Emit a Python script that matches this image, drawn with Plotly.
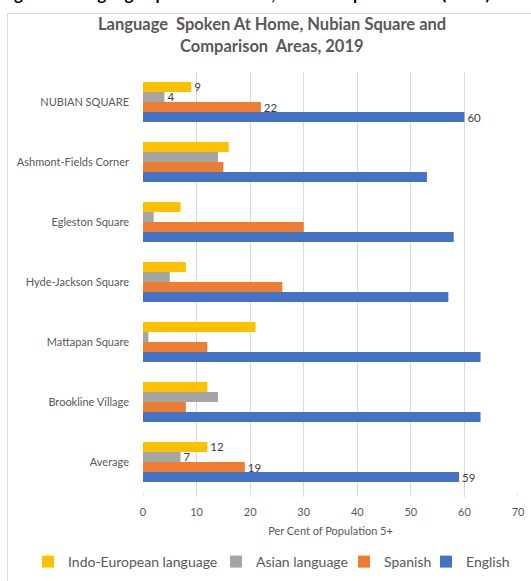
import plotly.graph_objects as go

# Areas, top to bottom
areas = [
    "NUBIAN SQUARE",
    "Ashmont-Fields Corner",
    "Egleston Square",
    "Hyde-Jackson Square",
    "Mattapan Square",
    "Brookline Village",
    "Average",
]

# Per cent of population 5+ by language spoken at home
indo_european = [9, 16, 7, 8, 21, 12, 12]
asian = [4, 14, 2, 5, 1, 14, 7]
spanish = [22, 15, 30, 26, 12, 8, 19]
english = [60, 53, 58, 57, 63, 63, 59]

series_names = ["Indo-European language", "Asian language", "Spanish", "English"]
series_values = [indo_european, asian, spanish, english]
series_colors = ["#FFC000", "#A5A5A5", "#ED7D31", "#4472C4"]

# Value labels are shown only for these areas
labelled_areas = {"NUBIAN SQUARE", "Average"}

title_lines = ["Language  Spoken At Home, Nubian Square and", "Comparison  Areas, 2019"]

W, H = 531, 581
L, R, T, B = 143, 13, 72, 89
plot_w = W - L - R
plot_h = H - T - B

# Left edge (px) of each legend entry along the bottom row
legend_left_px = [28, 216, 344, 426]


def px_x(px):
    return (px - L) / plot_w


def px_y(py):
    return (H - B - py) / plot_h


grey_text = "#595959"
legend_ids = ["legend", "legend2", "legend3", "legend4"]

fig = go.Figure()
for name, vals, col, lid in zip(series_names, series_values, series_colors, legend_ids):
    labels = [str(v) if a in labelled_areas else "" for a, v in zip(areas, vals)]
    fig.add_trace(go.Bar(
        y=areas, x=vals, name=name, orientation="h", legend=lid,
        marker=dict(color=col, line=dict(width=0)),
        text=labels, textposition="outside", constraintext="none",
        textfont=dict(family="Lato", size=11.5, color="#404040"),
        cliponaxis=False, hoverinfo="x+y",
    ))

legend_layouts = {
    lid: dict(
        orientation="h", x=px_x(lx), xanchor="left",
        y=px_y(562), yanchor="middle",
        font=dict(family="Lato", size=14, color=grey_text),
        itemwidth=30, bgcolor="rgba(0,0,0,0)",
    )
    for lid, lx in zip(legend_ids, legend_left_px)
}

fig.update_layout(
    width=W, height=H,
    margin=dict(l=L, r=R, t=T, b=B, pad=0, autoexpand=False),
    paper_bgcolor="white", plot_bgcolor="white",
    barmode="group", bargap=0.33, bargroupgap=0,
    font=dict(family="Lato", color=grey_text, size=11),
    xaxis=dict(
        range=[0, 70], dtick=10, showgrid=True, gridcolor="#D9D9D9", gridwidth=1,
        zeroline=False, showline=False, ticks="", ticklabelstandoff=12,
        tickfont=dict(family="Lato", size=11, color=grey_text),
        title=dict(text="Per Cent of Population 5+", standoff=10,
                   font=dict(family="Lato", size=11, color=grey_text)),
    ),
    yaxis=dict(
        autorange="reversed", showgrid=False, zeroline=False, showline=False,
        ticks="", ticklabelstandoff=13,
        tickfont=dict(family="Lato", size=11, color=grey_text),
    ),
    showlegend=True,
    **legend_layouts,
)

# Chart title, one annotation per line
for line, ypix in zip(title_lines, [24, 46]):
    fig.add_annotation(
        text=f"<b>{line}</b>", xref="paper", yref="paper",
        x=px_x(272), y=px_y(ypix), xanchor="center", yanchor="middle",
        showarrow=False, font=dict(family="Lato", size=16.5, color=grey_text),
    )

# Gridline ticks extend a little below the plot area
for v in range(0, 71, 10):
    fig.add_shape(type="line", xref="x", yref="paper",
                  x0=v, x1=v, y0=px_y(497), y1=0,
                  line=dict(color="#D9D9D9", width=1))

# Chart frame (left and top edges)
fig.add_shape(type="line", xref="paper", yref="paper",
              x0=px_x(7.5), x1=px_x(W + 5), y0=px_y(13.5), y1=px_y(13.5),
              line=dict(color="#D9D9D9", width=1))
fig.add_shape(type="line", xref="paper", yref="paper",
              x0=px_x(7.5), x1=px_x(7.5), y0=px_y(13.5), y1=px_y(H + 5),
              line=dict(color="#D9D9D9", width=1))

# Document caption above the chart frame
fig.add_annotation(
    text="<b>Figure 5: Language Spoken at Home, Nubian Square Areas (2019)</b>",
    xref="paper", yref="paper", x=px_x(-2), y=px_y(6),
    xanchor="left", yanchor="bottom", showarrow=False,
    font=dict(family="Lato", size=17, color="#000000"),
)

fig.write_html("out.html")
